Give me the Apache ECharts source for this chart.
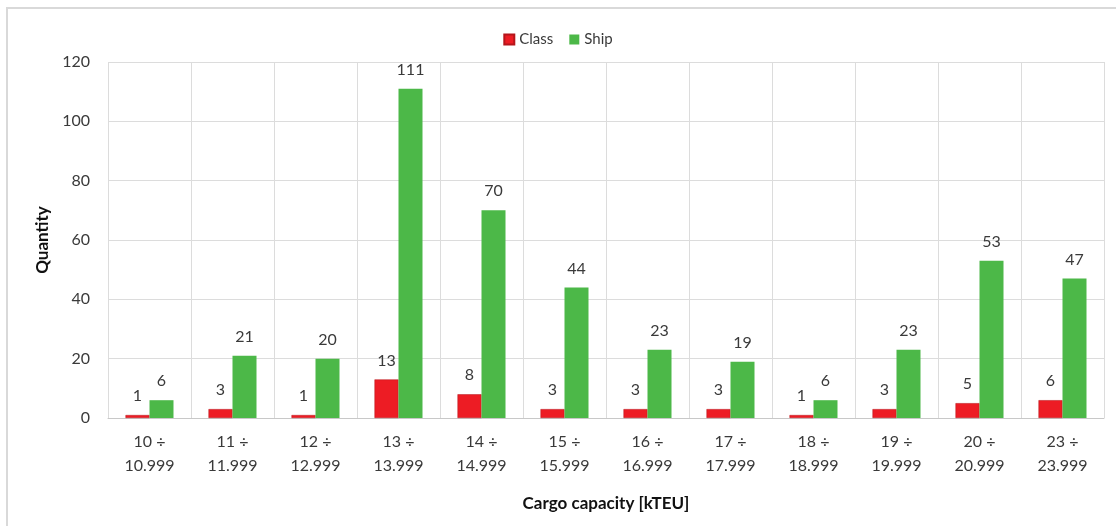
<!DOCTYPE html>
<html>
<head>
<meta charset="utf-8">
<style>
  html, body { margin: 0; padding: 0; background: #ffffff; }
  #chart { width: 1116px; height: 526px; }
</style>
<script src="https://cdn.jsdelivr.net/npm/echarts@6/dist/echarts.min.js"></script>
</head>
<body>
<div id="chart"></div>
<script>
// Capacity bands (thousand TEU)
const categories = [
  '10 ÷\n10.999', '11 ÷\n11.999', '12 ÷\n12.999', '13 ÷\n13.999',
  '14 ÷\n14.999', '15 ÷\n15.999', '16 ÷\n16.999', '17 ÷\n17.999',
  '18 ÷\n18.999', '19 ÷\n19.999', '20 ÷\n20.999', '23 ÷\n23.999'
];
// Number of ship classes per band
const classCounts = [1, 3, 1, 13, 8, 3, 3, 3, 1, 3, 5, 6];
// Number of ships per band
const shipCounts = [6, 21, 20, 111, 70, 44, 23, 19, 6, 23, 53, 47];
// Quantity axis ticks
const yMin = 0, yMax = 120, yStep = 20;

const FONT = 'Lato, "Open Sans", sans-serif';
const TEXT = '#3a3a3a';

const chart = echarts.init(document.getElementById('chart'), null, { renderer: 'canvas' });

const labelStyle = {
  show: true,
  position: 'top',
  distance: 11,
  fontFamily: FONT,
  fontSize: 16,
  color: TEXT
};

chart.setOption({
  animation: false,
  backgroundColor: '#ffffff',
  graphic: [{
    type: 'rect',
    shape: { x: 7, y: 8, width: 1130, height: 540 },
    style: { fill: 'none', stroke: '#d9d9d9', lineWidth: 2 },
    silent: true,
    z: -1
  }],
  legend: {
    top: 27,
    left: 'center',
    itemWidth: 10,
    itemHeight: 10,
    itemGap: 16,
    icon: 'rect',
    textStyle: { fontFamily: FONT, fontSize: 15, color: TEXT },
    data: ['Class', 'Ship']
  },
  grid: { left: 108, right: 12, top: 62, bottom: 108 },
  xAxis: {
    type: 'category',
    data: categories,
    name: 'Cargo capacity [kTEU]',
    nameLocation: 'middle',
    nameGap: 77,
    nameTextStyle: { fontFamily: FONT, fontSize: 17, fontWeight: 'bold', color: '#111' },
    axisLine: { lineStyle: { color: '#c8c8c8', width: 1 } },
    axisTick: { show: false },
    splitLine: { show: true, lineStyle: { color: '#dcdcdc', width: 1 } },
    axisLabel: {
      fontFamily: FONT, fontSize: 16, color: TEXT,
      lineHeight: 24, margin: 12, interval: 0
    }
  },
  yAxis: {
    type: 'value',
    min: yMin, max: yMax, interval: yStep,
    name: 'Quantity',
    nameLocation: 'middle',
    nameGap: 56,
    nameRotate: 90,
    nameTextStyle: { fontFamily: FONT, fontSize: 17, fontWeight: 'bold', color: '#111' },
    axisLine: { show: false },
    axisTick: { show: false },
    splitLine: { lineStyle: { color: '#dcdcdc', width: 1 } },
    axisLabel: { fontFamily: FONT, fontSize: 16, color: TEXT, margin: 18 }
  },
  series: [
    {
      name: 'Class',
      type: 'bar',
      data: classCounts,
      barWidth: 24,
      barGap: '0%',
      itemStyle: { color: '#ED1C24', borderColor: '#b5151b', borderWidth: 0.5 },
      label: labelStyle
    },
    {
      name: 'Ship',
      type: 'bar',
      data: shipCounts,
      barWidth: 24,
      barGap: '0%',
      itemStyle: { color: '#4CB848' },
      label: labelStyle
    }
  ]
});
</script>
</body>
</html>
